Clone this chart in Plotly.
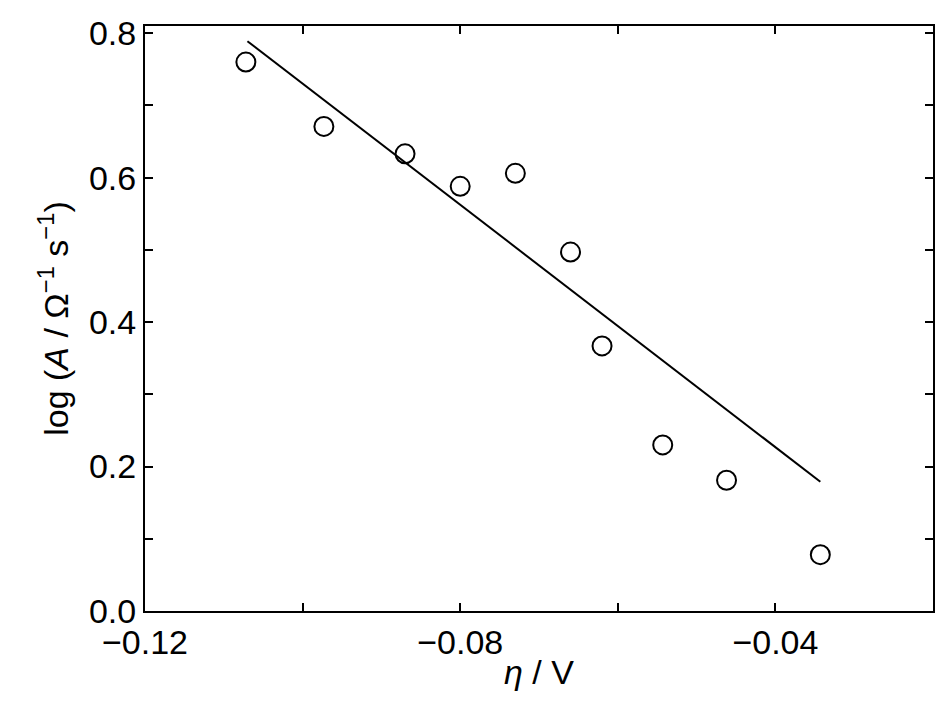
import plotly.graph_objects as go

eta = [-0.1072, -0.0973, -0.0870, -0.0800, -0.0730, -0.0660, -0.0620, -0.0543, -0.0462, -0.0343]
logA = [0.760, 0.671, 0.633, 0.588, 0.606, 0.497, 0.367, 0.230, 0.181, 0.078]
fit_x = [-0.1070, -0.0343]
fit_y = [0.789, 0.179]

fig = go.Figure()
fig.add_trace(go.Scatter(x=fit_x, y=fit_y, mode='lines',
                         line=dict(color='black', width=2)))
fig.add_trace(go.Scatter(x=eta, y=logA, mode='markers',
                         marker=dict(symbol='circle-open', size=19, color='black',
                                     line=dict(width=2))))

axis_common = dict(showgrid=False, zeroline=False, showline=True, linecolor='black',
                   linewidth=2, mirror='ticks', ticks='inside', ticklen=8,
                   tickwidth=1.5, tickcolor='black',
                   tickfont=dict(family='Liberation Sans', size=34, color='black'))
title_font = dict(family='Liberation Sans', size=34, color='black')

fig.update_xaxes(range=[-0.12, -0.02], tickvals=[-0.12, -0.10, -0.08, -0.06, -0.04, -0.02],
                 ticktext=['\u22120.12', '', '\u22120.08', '', '\u22120.04', ''],
                 title=dict(text='<i>\u03b7</i> / V', standoff=0, font=title_font),
                 **axis_common)
fig.update_yaxes(range=[0, 0.81], tickvals=[0, 0.1, 0.2, 0.3, 0.4, 0.5, 0.6, 0.7, 0.8],
                 ticktext=['0.0', '', '0.2', '', '0.4', '', '0.6', '', '0.8'],
                 title=dict(text='log (<i>A</i> / \u03a9<sup>\u22121</sup> s<sup>\u22121</sup>)',
                            standoff=10, font=title_font),
                 **axis_common)

fig.update_layout(width=947, height=711, showlegend=False,
                  plot_bgcolor='white', paper_bgcolor='white',
                  margin=dict(l=137, r=22, t=18, b=108, autoexpand=False))
fig.write_html("out.html")
